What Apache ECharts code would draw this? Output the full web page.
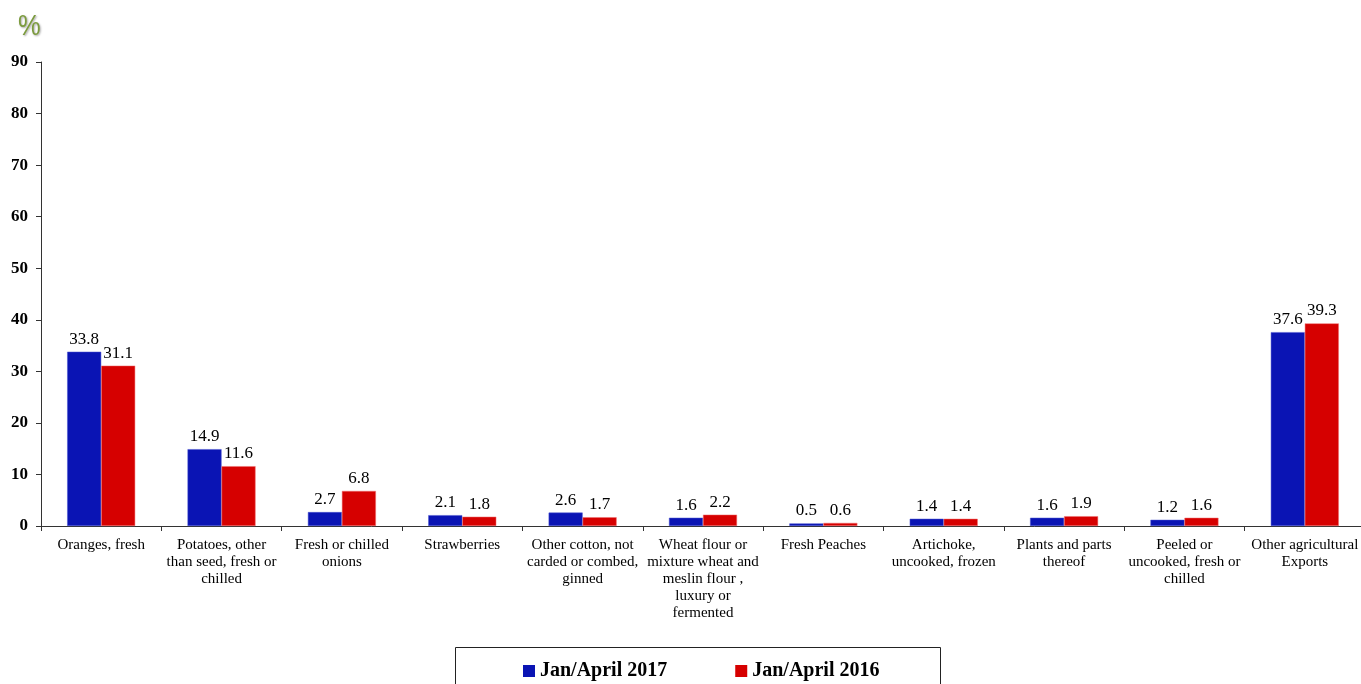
<!DOCTYPE html>
<html>
<head>
<meta charset="utf-8">
<script src="https://cdn.jsdelivr.net/npm/echarts@6/dist/echarts.min.js"></script>
<style>
  html, body { margin: 0; padding: 0; background: #fff; overflow: hidden; }
  #chart { width: 1366px; height: 684px; }
</style>
</head>
<body>
<div id="chart"></div>
<script>
var categories = [
  "Oranges, fresh",
  "Potatoes, other\nthan seed, fresh or\nchilled",
  "Fresh or chilled\nonions",
  "Strawberries",
  "Other cotton, not\ncarded or combed,\nginned",
  "Wheat flour or\nmixture wheat and\nmeslin flour ,\nluxury or\nfermented",
  "Fresh Peaches",
  "Artichoke,\nuncooked, frozen",
  "Plants and parts\nthereof",
  "Peeled or\nuncooked, fresh or\nchilled",
  "Other agricultural\nExports"
];
var jan2017 = [33.8, 14.9, 2.7, 2.1, 2.6, 1.6, 0.5, 1.4, 1.6, 1.2, 37.6];
var jan2016 = [31.1, 11.6, 6.8, 1.8, 1.7, 2.2, 0.6, 1.4, 1.9, 1.6, 39.3];
var seriesNames = ["Jan/April 2017", "Jan/April 2016"];

var serif = "'Liberation Serif', 'Times New Roman', serif";
var myChart = echarts.init(document.getElementById("chart"));

// value label shown above each bar
var barLabel = {
  show: true,
  position: "top",
  distance: 4,
  fontFamily: serif,
  fontSize: 17,
  color: "#000",
  formatter: function (p) { return p.value.toFixed(1); }
};

myChart.setOption({
  animation: false,
  backgroundColor: "#fff",
  grid: { left: 41, top: 62, right: 1, bottom: 158 },
  graphic: [
    {
      type: "rect",
      z: 0,
      shape: { x: 455.5, y: 647.5, width: 485, height: 60 },
      style: { fill: "#fff", stroke: "#222", lineWidth: 1 }
    },
    {
      type: "text",
      x: 18,
      y: 12,
      scaleX: 0.85,
      style: {
        text: "%",
        fontFamily: "'Liberation Sans', sans-serif",
        fontSize: 30,
        fill: "#7c9b3e",
        textShadowColor: "rgba(0,0,0,0.35)",
        textShadowBlur: 2,
        textShadowOffsetX: 1,
        textShadowOffsetY: 1
      }
    }
  ],
  legend: {
    data: seriesNames,
    left: 518,
    top: 656,
    itemWidth: 12,
    itemHeight: 12,
    itemGap: 68,
    icon: "rect",
    z: 5,
    itemStyle: { borderWidth: 0 },
    textStyle: {
      fontFamily: serif,
      fontSize: 20,
      fontWeight: "bold",
      color: "#000"
    }
  },
  xAxis: {
    type: "category",
    data: categories,
    axisLine: { lineStyle: { color: "#333", width: 1 } },
    axisTick: { show: true, length: 5, lineStyle: { color: "#333" } },
    axisLabel: {
      interval: 0,
      margin: 11,
      fontFamily: serif,
      fontSize: 15,
      lineHeight: 17,
      color: "#000"
    }
  },
  yAxis: {
    type: "value",
    min: 0,
    max: 90,
    interval: 10,
    splitLine: { show: false },
    axisLine: { show: true, lineStyle: { color: "#333", width: 1 } },
    axisTick: { show: true, length: 5, lineStyle: { color: "#333" } },
    axisLabel: {
      margin: 13,
      fontFamily: serif,
      fontSize: 17,
      fontWeight: "bold",
      color: "#000"
    }
  },
  series: [
    {
      name: seriesNames[0],
      type: "bar",
      data: jan2017,
      barWidth: 34,
      barGap: "0%",
      itemStyle: { color: "#0a14b4", borderColor: "#4a55d0", borderWidth: 0.5 },
      label: barLabel
    },
    {
      name: seriesNames[1],
      type: "bar",
      data: jan2016,
      barWidth: 34,
      itemStyle: { color: "#d60000", borderColor: "#f07070", borderWidth: 0.5 },
      label: barLabel
    }
  ]
});
</script>
</body>
</html>
